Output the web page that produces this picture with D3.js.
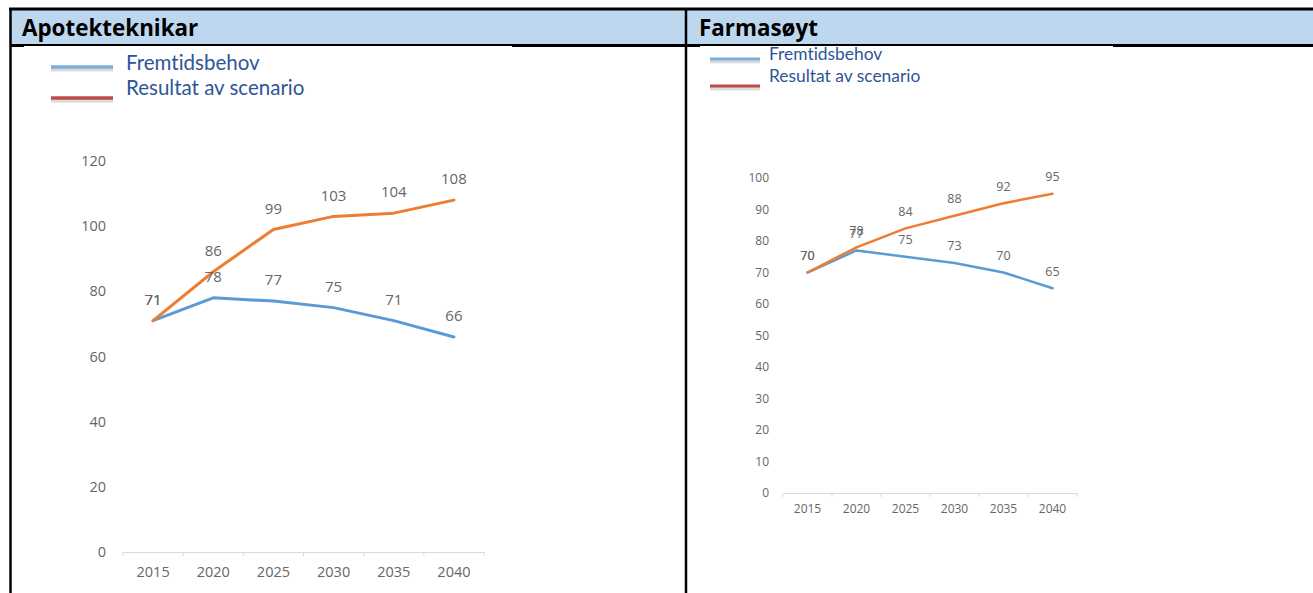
<!DOCTYPE html>
<html>
<head>
<meta charset="utf-8">
<script src="https://cdn.jsdelivr.net/npm/d3@7"></script>
<style>
  html, body { margin: 0; padding: 0; background: #fff; }
  svg { display: block; }
  text { font-family: "Open Sans", Lato, sans-serif; font-variant-ligatures: none; }
  text.leg { font-family: Lato, "Open Sans", sans-serif; }
</style>
</head>
<body>
<svg id="chart" width="1313" height="593"></svg>
<script>
// ---- data ----
const years = ["2015", "2020", "2025", "2030", "2035", "2040"];
const seriesNames = ["Fremtidsbehov", "Resultat av scenario"];
const panelTitles = ["Apotekteknikar", "Farmasøyt"];

const apotekFremtid = [71, 78, 77, 75, 71, 66];
const apotekResultat = [71, 86, 99, 103, 104, 108];
const apotekTicks = [0, 20, 40, 60, 80, 100, 120];

const farmaFremtid = [70, 77, 75, 73, 70, 65];
const farmaResultat = [70, 78, 84, 88, 92, 95];
const farmaTicks = [0, 10, 20, 30, 40, 50, 60, 70, 80, 90, 100];

// ---- layout ----
const svg = d3.select("#chart");
const W = 1313, H = 593;

// header band
svg.append("rect").attr("x", 10).attr("y", 9).attr("width", W - 10).attr("height", 36).attr("fill", "#BDD7EE");
// header bottom line
svg.append("line").attr("x1", 10).attr("x2", W).attr("y1", 45.5).attr("y2", 45.5).attr("stroke", "#000").attr("stroke-width", 3);
// top border
svg.append("line").attr("x1", 9).attr("x2", W).attr("y1", 9).attr("y2", 9).attr("stroke", "#000").attr("stroke-width", 3);

// chart image areas (cover part of the border)
svg.append("rect").attr("x", 24).attr("y", 46).attr("width", 488).attr("height", H - 46).attr("fill", "#fff");
svg.append("rect").attr("x", 700).attr("y", 46).attr("width", 413).attr("height", H - 46).attr("fill", "#fff");

// vertical borders
svg.append("line").attr("x1", 10.5).attr("x2", 10.5).attr("y1", 8).attr("y2", H).attr("stroke", "#000").attr("stroke-width", 2.5);
svg.append("line").attr("x1", 686).attr("x2", 686).attr("y1", 8).attr("y2", H).attr("stroke", "#000").attr("stroke-width", 2.5);

// titles
svg.append("text").attr("x", 22).attr("y", 36).attr("font-size", 22.4).attr("font-weight", 700).attr("fill", "#000").text(panelTitles[0]);
svg.append("text").attr("x", 699).attr("y", 36).attr("font-size", 22.4).attr("font-weight", 700).attr("fill", "#000").text(panelTitles[1]);

const blue = "#5B9BD5", orange = "#ED7D31";
const legendBlue = "#7EAEDC", legendRed = "#BE4B48";

function legend(cfg) {
  const g = svg.append("g");
  const cols = [legendBlue, legendRed];
  seriesNames.forEach((name, i) => {
    const ly = cfg.lineY[i];
    g.append("line").attr("x1", cfg.x1).attr("x2", cfg.x2).attr("y1", ly + 2).attr("y2", ly + 2)
      .attr("stroke", "#999").attr("stroke-opacity", 0.35).attr("stroke-width", cfg.lw + 1.5);
    g.append("line").attr("x1", cfg.x1).attr("x2", cfg.x2).attr("y1", ly).attr("y2", ly)
      .attr("stroke", cols[i]).attr("stroke-width", cfg.lw);
    g.append("text").attr("class", "leg").attr("x", cfg.tx).attr("y", cfg.textY[i]).attr("font-size", cfg.fs)
      .attr("fill", "#2E5597").text(name);
  });
}

function panel(cfg) {
  const g = svg.append("g");
  const x = d3.scaleBand().domain(years).range([cfg.x0, cfg.x1]).paddingInner(0).paddingOuter(0);
  const y = d3.scaleLinear().domain([0, cfg.ymax]).range([cfg.y0, cfg.y1]);

  // y labels
  g.selectAll(".yl").data(cfg.ticks).join("text")
    .attr("x", cfg.ylx).attr("y", d => y(d)).attr("dy", "0.35em").attr("text-anchor", "end")
    .attr("font-size", cfg.tfs).attr("fill", "#666").text(d => d);

  // x axis
  const xa = d3.axisBottom(x).tickSize(0).tickPadding(cfg.xpad);
  const ag = g.append("g").attr("transform", `translate(0,${cfg.y0})`).call(xa);
  ag.select(".domain").attr("stroke", "#d9d9d9").attr("stroke-width", 1.2);
  ag.selectAll("text").attr("font-size", cfg.tfs).attr("fill", "#666").attr("font-family", "'Open Sans', sans-serif");
  // boundary tick marks
  const bounds = years.map(d => x(d)).concat([cfg.x1]);
  g.selectAll(".bt").data(bounds).join("line")
    .attr("x1", d => d).attr("x2", d => d).attr("y1", cfg.y0).attr("y2", cfg.y0 + 4)
    .attr("stroke", "#d9d9d9").attr("stroke-width", 1);

  const cx = d => x(d) + x.bandwidth() / 2;
  const line = d3.line().x((d, i) => cx(years[i])).y(d => y(d));

  [[cfg.fremtid, blue], [cfg.resultat, orange]].forEach(([vals, col]) => {
    g.append("path").datum(vals).attr("d", line).attr("fill", "none")
      .attr("stroke", col).attr("stroke-width", cfg.lw).attr("stroke-linejoin", "round").attr("stroke-linecap", "round");
  });
  [cfg.fremtid, cfg.resultat].forEach(vals => {
    g.selectAll(null).data(vals).join("text")
      .attr("x", (d, i) => cx(years[i])).attr("y", d => y(d) - cfg.loff).attr("dy", "0.35em")
      .attr("text-anchor", "middle").attr("font-size", cfg.lfs).attr("fill", "#666").text(d => d);
  });
}

legend({ x1: 51, x2: 113, lineY: [67, 98], lw: 3.5, tx: 126, textY: [70, 95], fs: 20.5 });
legend({ x1: 710, x2: 760, lineY: [59, 86], lw: 3, tx: 769, textY: [60, 82], fs: 17.4 });

panel({ x0: 123, x1: 484, y0: 552, y1: 161, ymax: 120, ticks: apotekTicks, ylx: 106,
        fremtid: apotekFremtid, resultat: apotekResultat, tfs: 14.5, lfs: 15, loff: 21, lw: 3, xpad: 15 });
panel({ x0: 783, x1: 1077, y0: 493, y1: 178, ymax: 100, ticks: farmaTicks, ylx: 769,
        fremtid: farmaFremtid, resultat: farmaResultat, tfs: 12, lfs: 12.5, loff: 17, lw: 2.5, xpad: 11 });
</script>
</body>
</html>
